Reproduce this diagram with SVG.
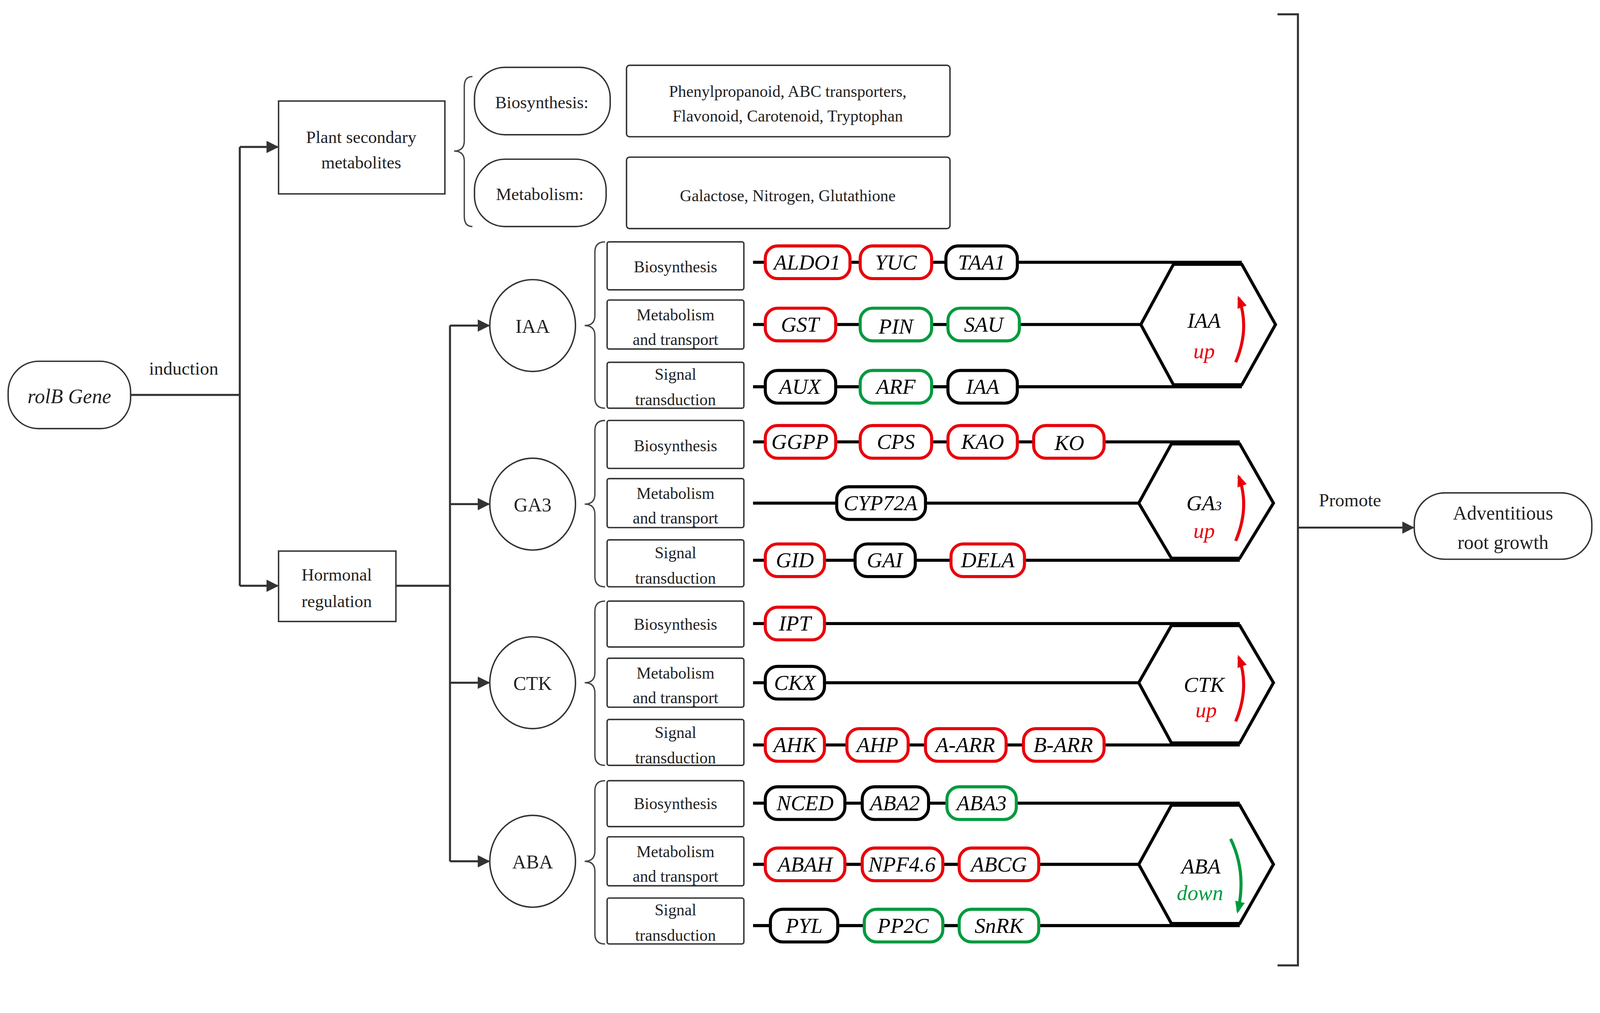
<svg xmlns="http://www.w3.org/2000/svg" width="4244" height="2593" viewBox="0 0 4244 2593">
<defs>
<style>
text{font-family:"Liberation Serif","Times New Roman",serif;fill:#222;text-anchor:middle}
.bx{fill:#fff;stroke:#333;stroke-width:1.4}
.t{font-size:17px}
.g{font-size:21px;font-style:italic;fill:#000}
.pr{fill:#fff;stroke:#e8000b;stroke-width:3}
.pg{fill:#fff;stroke:#009a3e;stroke-width:3}
.pk{fill:#fff;stroke:#000;stroke-width:3}
.ln{stroke:#333;stroke-width:2;fill:none}
.row{stroke:#000;stroke-width:3;fill:none}
.br{stroke:#444;stroke-width:1.3;fill:none}
.hx{fill:#fff;stroke:#000;stroke-width:3}
</style>
<marker id="ah" viewBox="0 0 10 10" refX="9" refY="5" markerWidth="12" markerHeight="12" orient="auto" markerUnits="userSpaceOnUse"><path d="M0,0L10,5L0,10z" fill="#333"/></marker>
<marker id="rr" viewBox="0 0 10 10" refX="8" refY="5" markerWidth="12" markerHeight="14" orient="auto" markerUnits="userSpaceOnUse"><path d="M0,1L10,5L0,9z" fill="#e8000b"/></marker>
<marker id="gg" viewBox="0 0 10 10" refX="8" refY="5" markerWidth="12" markerHeight="14" orient="auto" markerUnits="userSpaceOnUse"><path d="M0,1L10,5L0,9z" fill="#009a3e"/></marker>
</defs>
<rect width="4244" height="2593" fill="#fff"/>
<g transform="scale(2.6122)">
<g id="connectors">
<path class="ln" d="M128,387H235M235,144V574"/>
<path class="ln" d="M235,144H272" marker-end="url(#ah)"/>
<path class="ln" d="M235,574H272" marker-end="url(#ah)"/>
<path class="ln" d="M388,574H441M441,319V844"/>
<path class="ln" d="M441,319H479" marker-end="url(#ah)"/>
<path class="ln" d="M441,494H479" marker-end="url(#ah)"/>
<path class="ln" d="M441,669H479" marker-end="url(#ah)"/>
<path class="ln" d="M441,844H479" marker-end="url(#ah)"/>
<path class="br" d="M463,75Q455,75 455,85V138Q455,148 445,148Q455,148 455,158V212Q455,222 463,222"/>
<path class="br" d="M593,237Q583,237 583,247V309Q583,319 573,319Q583,319 583,329V390Q583,400 593,400"/>
<path class="br" d="M593,412Q583,412 583,422V484Q583,494 573,494Q583,494 583,504V565Q583,575 593,575"/>
<path class="br" d="M593,589Q583,589 583,599V659Q583,669 573,669Q583,669 583,679V740Q583,750 593,750"/>
<path class="br" d="M593,765Q583,765 583,775V834Q583,844 573,844Q583,844 583,854V915Q583,925 593,925"/>
<path class="row" d="M738,257H1217M738,318H1118M738,379H1217"/>
<path class="row" d="M738,433H1215M738,493H1116M738,549H1215"/>
<path class="row" d="M738,611H1215M738,669H1116M738,730H1215"/>
<path class="row" d="M738,787H1215M738,847H1116M738,907H1215"/>
<path class="ln" d="M1252,14H1272V946H1252"/>
<path class="ln" d="M1272,517H1385" marker-end="url(#ah)"/>
</g>
<g id="rolB"><rect class="bx" x="8" y="354" width="120" height="66" rx="30"/><text x="68" y="395" style="font-size:20px;font-style:italic">rolB Gene</text></g>
<text x="180" y="367" class="t" style="font-size:18px">induction</text>
<g id="psm"><rect class="bx" x="273" y="99" width="163" height="91"/><text x="354" y="140" class="t">Plant secondary</text><text x="354" y="165" class="t">metabolites</text></g>
<g id="bios"><rect class="bx" x="465" y="66" width="133" height="66" rx="30"/><text x="531" y="106" class="t">Biosynthesis:</text></g>
<g id="meta"><rect class="bx" x="465" y="156" width="129" height="66" rx="30"/><text x="529" y="196" class="t">Metabolism:</text></g>
<g id="biosbox"><rect class="bx" x="614" y="64" width="317" height="70" rx="3"/><text x="772" y="95" style="font-size:16px">Phenylpropanoid, ABC transporters,</text><text x="772" y="119" style="font-size:16px">Flavonoid, Carotenoid, Tryptophan</text></g>
<g id="metabox"><rect class="bx" x="614" y="154" width="317" height="70" rx="3"/><text x="772" y="197" style="font-size:16px">Galactose, Nitrogen, Glutathione</text></g>
<g id="hormonal"><rect class="bx" x="273" y="540" width="115" height="69"/><text x="330" y="569" class="t">Hormonal</text><text x="330" y="595" class="t">regulation</text></g>
<g id="circles" style="font-size:19px">
<ellipse class="bx" cx="522" cy="319" rx="42" ry="45"/><text x="522" y="326">IAA</text>
<ellipse class="bx" cx="522" cy="494" rx="42" ry="45"/><text x="522" y="501">GA3</text>
<ellipse class="bx" cx="522" cy="669" rx="42" ry="45"/><text x="522" y="676">CTK</text>
<ellipse class="bx" cx="522" cy="844" rx="42" ry="45"/><text x="522" y="851">ABA</text>
</g>
<g id="subboxes" style="font-size:16px">
<rect class="bx" x="595" y="237" width="134" height="47" rx="2"/><text x="662" y="267">Biosynthesis</text>
<rect class="bx" x="595" y="294" width="134" height="48" rx="2"/><text x="662" y="314">Metabolism</text><text x="662" y="338">and transport</text>
<rect class="bx" x="595" y="355" width="134" height="45" rx="2"/><text x="662" y="372">Signal</text><text x="662" y="397">transduction</text>
<rect class="bx" x="595" y="412" width="134" height="47" rx="2"/><text x="662" y="442">Biosynthesis</text>
<rect class="bx" x="595" y="469" width="134" height="48" rx="2"/><text x="662" y="489">Metabolism</text><text x="662" y="513">and transport</text>
<rect class="bx" x="595" y="529" width="134" height="46" rx="2"/><text x="662" y="547">Signal</text><text x="662" y="572">transduction</text>
<rect class="bx" x="595" y="589" width="134" height="45" rx="2"/><text x="662" y="617">Biosynthesis</text>
<rect class="bx" x="595" y="645" width="134" height="48" rx="2"/><text x="662" y="665">Metabolism</text><text x="662" y="689">and transport</text>
<rect class="bx" x="595" y="705" width="134" height="45" rx="2"/><text x="662" y="723">Signal</text><text x="662" y="748">transduction</text>
<rect class="bx" x="595" y="765" width="134" height="45" rx="2"/><text x="662" y="793">Biosynthesis</text>
<rect class="bx" x="595" y="820" width="134" height="48" rx="2"/><text x="662" y="840">Metabolism</text><text x="662" y="864">and transport</text>
<rect class="bx" x="595" y="880" width="134" height="45" rx="2"/><text x="662" y="897">Signal</text><text x="662" y="922">transduction</text>
</g>
<g id="genes">
<rect class="pr" x="750" y="241" width="83" height="32" rx="12"/><text class="g" x="791" y="264">ALDO1</text>
<rect class="pr" x="843" y="241" width="70" height="32" rx="12"/><text class="g" x="878" y="264">YUC</text>
<rect class="pk" x="927" y="241" width="70" height="32" rx="12"/><text class="g" x="962" y="264">TAA1</text>
<rect class="pr" x="750" y="302" width="69" height="32" rx="12"/><text class="g" x="784" y="325">GST</text>
<rect class="pg" x="843" y="302" width="70" height="32" rx="12"/><text class="g" x="878" y="327">PIN</text>
<rect class="pg" x="929" y="302" width="70" height="32" rx="12"/><text class="g" x="964" y="325">SAU</text>
<rect class="pk" x="750" y="363" width="69" height="32" rx="12"/><text class="g" x="784" y="386">AUX</text>
<rect class="pg" x="843" y="363" width="70" height="32" rx="12"/><text class="g" x="878" y="386">ARF</text>
<rect class="pk" x="929" y="363" width="68" height="32" rx="12"/><text class="g" x="963" y="386">IAA</text>
<rect class="pr" x="750" y="417" width="69" height="32" rx="12"/><text class="g" x="784" y="440">GGPP</text>
<rect class="pr" x="843" y="417" width="70" height="32" rx="12"/><text class="g" x="878" y="440">CPS</text>
<rect class="pr" x="929" y="417" width="68" height="32" rx="12"/><text class="g" x="963" y="440">KAO</text>
<rect class="pr" x="1013" y="417" width="69" height="32" rx="12"/><text class="g" x="1048" y="441">KO</text>
<rect class="pk" x="820" y="477" width="87" height="32" rx="12"/><text class="g" x="863" y="500">CYP72A</text>
<rect class="pr" x="750" y="533" width="58" height="32" rx="12"/><text class="g" x="779" y="556">GID</text>
<rect class="pk" x="838" y="533" width="59" height="32" rx="12"/><text class="g" x="867" y="556">GAI</text>
<rect class="pr" x="932" y="533" width="72" height="32" rx="12"/><text class="g" x="968" y="556">DELA</text>
<rect class="pr" x="750" y="595" width="58" height="32" rx="12"/><text class="g" x="779" y="618">IPT</text>
<rect class="pk" x="750" y="653" width="58" height="32" rx="12"/><text class="g" x="779" y="676">CKX</text>
<rect class="pr" x="750" y="714" width="58" height="32" rx="12"/><text class="g" x="779" y="737">AHK</text>
<rect class="pr" x="830" y="714" width="60" height="32" rx="12"/><text class="g" x="860" y="737">AHP</text>
<rect class="pr" x="907" y="714" width="79" height="32" rx="12"/><text class="g" x="946" y="737">A-ARR</text>
<rect class="pr" x="1003" y="714" width="79" height="32" rx="12"/><text class="g" x="1042" y="737">B-ARR</text>
<rect class="pk" x="750" y="771" width="78" height="32" rx="12"/><text class="g" x="789" y="794">NCED</text>
<rect class="pk" x="845" y="771" width="65" height="32" rx="12"/><text class="g" x="877" y="794">ABA2</text>
<rect class="pg" x="928" y="771" width="68" height="32" rx="12"/><text class="g" x="962" y="794">ABA3</text>
<rect class="pr" x="750" y="831" width="78" height="32" rx="12"/><text class="g" x="789" y="854">ABAH</text>
<rect class="pr" x="845" y="831" width="79" height="32" rx="12"/><text class="g" x="884" y="854">NPF4.6</text>
<rect class="pr" x="940" y="831" width="78" height="32" rx="12"/><text class="g" x="979" y="854">ABCG</text>
<rect class="pk" x="755" y="891" width="66" height="32" rx="12"/><text class="g" x="788" y="914">PYL</text>
<rect class="pg" x="847" y="891" width="77" height="32" rx="12"/><text class="g" x="885" y="914">PP2C</text>
<rect class="pg" x="940" y="891" width="78" height="32" rx="12"/><text class="g" x="979" y="914">SnRK</text>
</g>
<g id="hex-iaa"><polygon class="hx" points="1150,259 1217,259 1250,318 1217,377 1150,377 1118,318"/><text class="g" x="1180" y="321">IAA</text><text class="g" x="1180" y="351" style="fill:#e8000b">up</text><path d="M1211,355Q1225,322 1214,292" stroke="#e8000b" stroke-width="3" fill="none" marker-end="url(#rr)"/></g>
<g id="hex-ga"><polygon class="hx" points="1148,435 1215,435 1248,493 1215,547 1148,547 1116,493"/><text class="g" x="1180" y="500">GA<tspan style="font-size:13px">3</tspan></text><text class="g" x="1180" y="527" style="fill:#e8000b">up</text><path d="M1211,530Q1225,497 1214,467" stroke="#e8000b" stroke-width="3" fill="none" marker-end="url(#rr)"/></g>
<g id="hex-ctk"><polygon class="hx" points="1148,613 1215,613 1248,669 1215,728 1148,728 1116,669"/><text class="g" x="1180" y="678">CTK</text><text class="g" x="1182" y="703" style="fill:#e8000b">up</text><path d="M1211,707Q1225,674 1214,644" stroke="#e8000b" stroke-width="3" fill="none" marker-end="url(#rr)"/></g>
<g id="hex-aba"><polygon class="hx" points="1148,789 1215,789 1248,847 1215,905 1148,905 1116,847"/><text class="g" x="1177" y="856">ABA</text><text class="g" x="1176" y="882" style="fill:#009a3e">down</text><path d="M1206,822Q1222,855 1213,893" stroke="#009a3e" stroke-width="3" fill="none" marker-end="url(#gg)"/></g>
<text x="1323" y="496" class="t" style="font-size:18px">Promote</text>
<g id="adv"><rect class="bx" x="1386" y="483" width="174" height="65" rx="30"/><text x="1473" y="509" style="font-size:19px">Adventitious</text><text x="1473" y="538" style="font-size:19px">root growth</text></g>
</g>
</svg>
